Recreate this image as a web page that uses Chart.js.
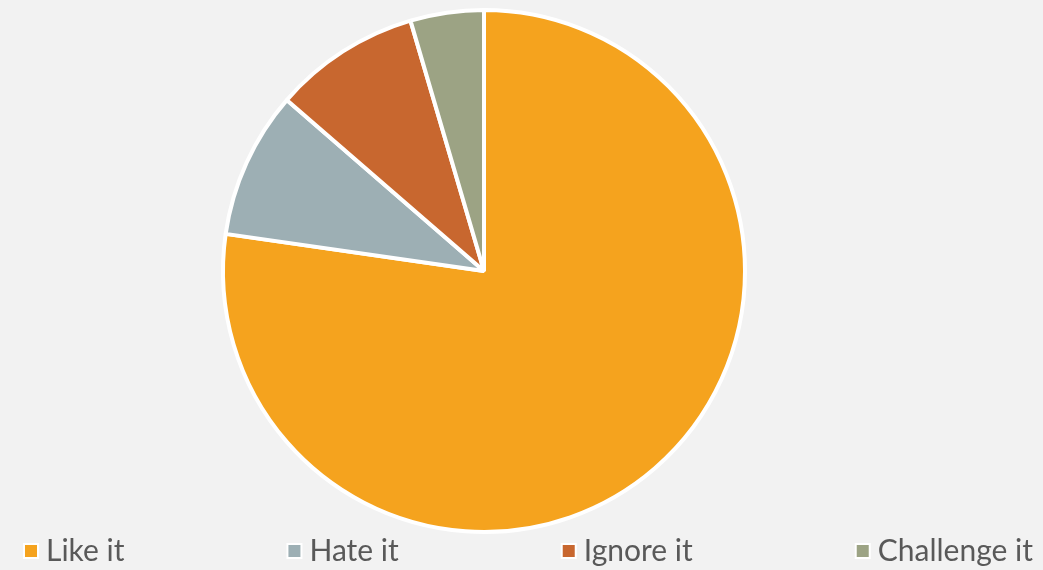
<!DOCTYPE html>
<html>
<head>
<meta charset="utf-8">
<script src="https://cdn.jsdelivr.net/npm/chart.js@4/dist/chart.umd.min.js"></script>
<style>
    html, body { margin: 0; padding: 0; background: #f2f2f2; }
    #wrap { width: 1043px; height: 570px; }
</style>
</head>
<body>
<div id="wrap"><canvas id="pie-chart"></canvas></div>
<script>
var labels = ["Like it", "Hate it", "Ignore it", "Challenge it"];
var values = [17, 2, 2, 1];
var colors = ["#F5A31E", "#9DAFB4", "#C8672F", "#9CA384"];

// legend spread across the bottom, like the original
var bottomLegend = {
    id: "bottomLegend",
    afterDraw: function (chart) {
        var ctx = chart.ctx;
        var font = "30px Lato";
        var box = 12, gap = 9, left = 25, right = 1033, y = 551;
        ctx.save();
        ctx.font = font;
        var widths = labels.map(function (t) { return box + gap + ctx.measureText(t).width; });
        var total = widths.reduce(function (a, b) { return a + b; }, 0);
        var space = (right - left - total) / (labels.length - 1);
        var x = left;
        for (var i = 0; i < labels.length; i++) {
            ctx.fillStyle = "#ffffff";
            ctx.fillRect(x - 2, y - box / 2 - 2, box + 4, box + 4);
            ctx.fillStyle = colors[i];
            ctx.fillRect(x, y - box / 2, box, box);
            ctx.fillStyle = "#595959";
            ctx.textBaseline = "middle";
            ctx.fillText(labels[i], x + box + gap, y);
            x += widths[i] + space;
        }
        ctx.restore();
    }
};

const pieChart = document.getElementById("pie-chart");
var CHART = new Chart(pieChart, {
    type: 'pie',
    data: {
        labels: labels,
        datasets: [{
            data: values,
            backgroundColor: colors,
            borderColor: "#ffffff",
            borderWidth: 4
        }]
    },
    options: {
        responsive: true,
        maintainAspectRatio: false,
        animation: false,
        layout: { padding: { top: 8, bottom: 36, left: 0, right: 75 } },
        plugins: {
            legend: { display: false },
            tooltip: { enabled: false }
        }
    },
    plugins: [bottomLegend]
});
</script>
</body>
</html>
